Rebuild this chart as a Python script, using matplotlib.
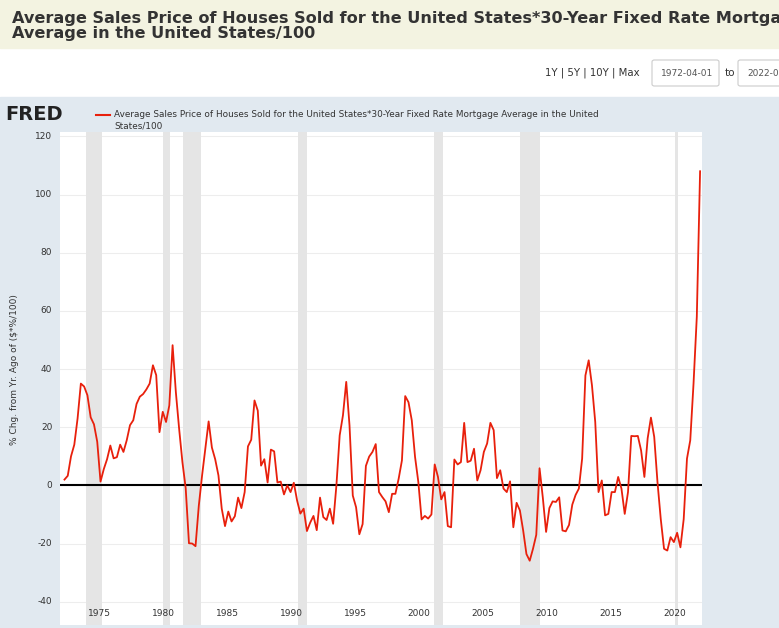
import matplotlib
matplotlib.use("Agg")
import matplotlib.pyplot as plt
import matplotlib.patches as mpatches
import numpy as np

values = [2, 3.3, 10, 14, 23, 35, 34, 31, 23.4, 21, 15, 1.3, 5.6, 9, 13.7, 9.3, 9.7, 14, 11.5, 15.5,
          20.7, 22.4, 28, 30.5, 31.4, 33, 35, 41.3, 37.9, 18.3, 25.3, 21.8, 27.5, 48.2, 32, 19.4, 8, -1,
          -19.9, -20, -20.9, -7, 3.4, 12.6, 22, 13, 9, 3.4, -8, -14, -9, -12.4, -10.6, -4.2, -7.8, -2.3,
          13.4, 15.7, 29.2, 25.7, 6.8, 9, 1, 12.3, 11.7, 1, 1.3, -3.1, 0, -2.3, 0.9, -5.2, -9.7, -8, -15.7,
          -12.8, -10.5, -15.4, -4.2, -10.9, -11.9, -8, -13.2, 0, 17.2, 24.1, 35.6, 20.6, -3.5, -7.5, -16.8,
          -13.3, 6.7, 9.9, 11.5, 14.2, -2.3, -4, -5.5, -9.2, -2.9, -2.9, 2.3, 8.6, 30.7, 28.6, 22.4, 9.8,
          1.2, -11.7, -10.5, -11.4, -10, 7.2, 2.9, -4.8, -2.3, -14, -14.4, 8.9, 7.2, 8, 21.5, 8, 8.5, 12.6,
          1.7, 5.2, 11.5, 14.4, 21.5, 19, 2.5, 5.2, -1.1, -2.3, 1.4, -14.4, -6, -8.6, -15.5, -23.6, -25.9,
          -21.8, -17, 5.9, -4.2, -16, -7.8, -5.5, -5.7, -4.1, -15.5, -15.8, -13.6, -6.6, -3.3, -1.1, 9.2,
          37.8, 43, 34.4, 21.8, -2.3, 1.7, -10.3, -9.8, -2.3, -2.3, 2.9, -1.1, -9.8, -2.3, 17, 16.9, 17,
          12, 2.9, 16.2, 23.3, 16.7, 1.1, -11.6, -21.8, -22.4, -17.8, -19.5, -16.3, -21.3, -11.6, 9.2,
          15.5, 35, 58, 108]
start_year, end_year = 1972.25, 2022.0
recessions = [(1973.9, 1975.2), (1980.0, 1980.5), (1981.5, 1982.9), (1990.5, 1991.2),
              (2001.2, 2001.9), (2007.9, 2009.5), (2020.0, 2020.3)]
xticks = [1975, 1980, 1985, 1990, 1995, 2000, 2005, 2010, 2015, 2020]
yticks = [-40, -20, 0, 20, 40, 60, 80, 100, 120]
title = "Average Sales Price of Houses Sold for the United States*30-Year Fixed Rate Mortgage\nAverage in the United States/100"
legend_text = "Average Sales Price of Houses Sold for the United States*30-Year Fixed Rate Mortgage Average in the United\nStates/100"

years = np.linspace(start_year, end_year, len(values))

W, H = 779, 628
fig = plt.figure(figsize=(W/100, H/100), dpi=100)
fig.patch.set_facecolor("white")
fig.patches.append(mpatches.Rectangle((0, 1-48/H), 1, 48/H, transform=fig.transFigure, color="#f3f3e1", zorder=0))
fig.text(12/W, 1-26/H, title, fontsize=11.6, fontweight="bold", color="#333333", va="center", ha="left", linespacing=1.05)
fig.text(545/W, 1-73/H, "1Y | 5Y | 10Y | Max", fontsize=7.3, color="#333333", va="center")
for x0, w, t in [(652, 67, "1972-04-01"), (738, 60, "2022-04")]:
    fig.patches.append(mpatches.FancyBboxPatch((x0/W, 1-86/H), w/W, 26/H, boxstyle="round,pad=0,rounding_size=0.003",
                                               transform=fig.transFigure, facecolor="white", edgecolor="#cccccc", lw=0.8))
    fig.text((x0+9)/W, 1-73/H, t, fontsize=6.5, color="#555555", va="center")
fig.text(725/W, 1-73/H, "to", fontsize=7.5, color="#333333", va="center")
fig.patches.append(mpatches.Rectangle((0, 0), 1, 1-97/H, transform=fig.transFigure, color="#e1e9f0", zorder=0))
fig.text(5/W, 1-115/H, "FRED", fontsize=14, fontweight="bold", color="#222222", va="center")
ax_leg_y = 1-115/H
fig.lines.append(plt.Line2D([96/W, 110/W], [ax_leg_y, ax_leg_y], transform=fig.transFigure, color="#e8200c", lw=1.5))
fig.text(114/W, 1-120/H, legend_text, fontsize=6.4, color="#333333", va="center", linespacing=1.3)
fig.text(15/W, 1-370/H, "% Chg. from Yr. Ago of ($*%/100)", fontsize=6.5, color="#333333", rotation=90, va="center", ha="center")

ax = fig.add_axes([60/W, 3/H, 642/W, 1-132/H-3/H])
ax.set_zorder(5)
ax.set_facecolor("white")
for a, b in recessions:
    ax.axvspan(a, b, color="#e5e5e5", lw=0, zorder=1)
for y in yticks:
    ax.axhline(y, color="#ededed", lw=0.8, zorder=0.5)
ax.axhline(0, color="black", lw=1.5, zorder=2)
ax.plot(years, values, color="#e8200c", lw=1.3, zorder=3)
ax.set_xlim(1971.9, 2022.15)
ax.set_ylim(-48, 121.5)
ax.set_xticks([]); ax.set_yticks([])
for s in ax.spines.values():
    s.set_visible(False)
for y in yticks:
    ax.text(-0.012, y, str(y), transform=ax.get_yaxis_transform(), ha="right", va="center", fontsize=6.5, color="#333333")
for x in xticks:
    ax.text(x, -44, str(x), ha="center", va="center", fontsize=6.5, color="#333333")
fig.savefig("out.png", dpi=100)
